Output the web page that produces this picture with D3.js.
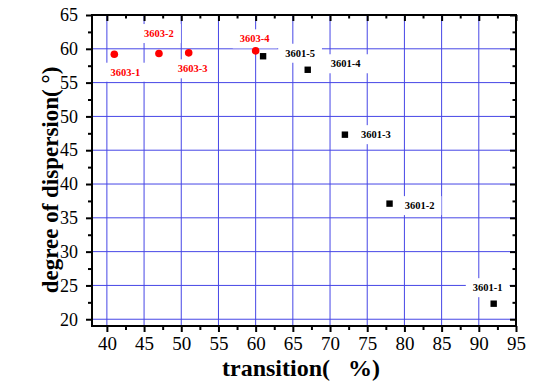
<!DOCTYPE html>
<html lang="en">
<head>
<meta charset="utf-8">
<title>dispersion vs transition</title>
<script src="https://cdn.jsdelivr.net/npm/d3@7"></script>
<style>
  body { margin: 0; background: #fff; }
</style>
</head>
<body>
<script>
// data
var names3603 = ["3603-1", "3603-2", "3603-3", "3603-4"];
var x3603 = [41, 47, 51, 60];
var y3603 = [59.2, 59.3, 59.4, 59.7];

var names3601 = ["3601-1", "3601-2", "3601-3", "3601-4", "3601-5"];
var x3601 = [92, 78, 72, 67, 61];
var y3601 = [22.3, 37.1, 47.3, 56.9, 58.9];

var xTicks = [40, 45, 50, 55, 60, 65, 70, 75, 80, 85, 90, 95];
var yTicks = [20, 25, 30, 35, 40, 45, 50, 55, 60, 65];

// label placement (pixels from the point)
var off3603 = [[11, 18], [0, -20], [4, 16], [-1, -12]];
var off3601 = [[-6, -16], [30, 2], [31, 0], [38, -6], [37, -3]];

var width = 533, height = 383;
var L = 92, R = 516, T = 15, B = 326;
var gridColor = "#4646e6";
var serif = "'Liberation Serif', 'Times New Roman', Times, serif";

var svg = d3.select("body").append("svg").attr("width", width).attr("height", height)
  .attr("font-family", serif);
svg.append("rect").attr("width", width).attr("height", height).attr("fill", "#fff");

var x = d3.scaleLinear().domain([38, 95]).range([L, R]);
var y = d3.scaleLinear().domain([19, 65]).range([B, T]);

var xMinor = xTicks.slice(0, -1).map(function(d) { return d + 2.5; });
var yMinor = yTicks.slice(0, -1).map(function(d) { return d + 2.5; });

// grid
svg.append("g").selectAll("line").data(xTicks.filter(function(d) { return d < 95; }))
  .enter().append("line")
  .attr("x1", function(d) { return x(d); }).attr("x2", function(d) { return x(d); })
  .attr("y1", T).attr("y2", B)
  .attr("stroke", gridColor).attr("stroke-width", 1);
svg.append("g").selectAll("line").data(yTicks.filter(function(d) { return d < 65; }))
  .enter().append("line")
  .attr("y1", function(d) { return y(d); }).attr("y2", function(d) { return y(d); })
  .attr("x1", L).attr("x2", R)
  .attr("stroke", gridColor).attr("stroke-width", 1);

// point labels with white boxes
function addLabels(names, xs, ys, offs, color) {
  names.forEach(function(n, i) {
    var g = svg.append("g");
    var t = g.append("text")
      .attr("x", x(xs[i]) + offs[i][0])
      .attr("y", y(ys[i]) + offs[i][1])
      .attr("text-anchor", "middle")
      .attr("dominant-baseline", "central")
      .attr("font-size", "10.5px")
      .attr("font-weight", "bold")
      .attr("fill", color)
      .text(n);
    var bb = t.node().getBBox();
    g.insert("rect", "text")
      .attr("x", bb.x - 7).attr("y", bb.y - 4)
      .attr("width", bb.width + 14).attr("height", bb.height + 8)
      .attr("fill", "#fff");
  });
}
addLabels(names3603, x3603, y3603, off3603, "#ff0000");
addLabels(names3601, x3601, y3601, off3601, "#000");

// points
svg.append("g").selectAll("circle").data(names3603).enter().append("circle")
  .attr("cx", function(d, i) { return x(x3603[i]); })
  .attr("cy", function(d, i) { return y(y3603[i]); })
  .attr("r", 3.8)
  .attr("fill", "#ff0000");
svg.append("g").selectAll("rect").data(names3601).enter().append("rect")
  .attr("x", function(d, i) { return x(x3601[i]) - 3.2; })
  .attr("y", function(d, i) { return y(y3601[i]) - 3.2; })
  .attr("width", 6.4).attr("height", 6.4)
  .attr("fill", "#000");

// axes
function tickAxis(axis, vals, size, tf) {
  return axis.tickValues(vals).tickSize(size).tickSizeOuter(0).tickFormat(tf ? tf : "");
}
function styleAxis(g, fs) {
  g.attr("font-family", serif);
  g.select(".domain").remove();
  g.selectAll("line").attr("stroke", "#000").attr("stroke-width", 2);
  g.selectAll("text").attr("font-size", fs).attr("fill", "#000");
}

var bottom = svg.append("g").attr("transform", "translate(0," + B + ")")
  .call(tickAxis(d3.axisBottom(x), xTicks, 6, d3.format("d")).tickPadding(5));
styleAxis(bottom, "19px");
svg.append("g").attr("transform", "translate(0," + B + ")")
  .call(tickAxis(d3.axisBottom(x), xMinor, 4)).call(styleAxis, "0");

var left = svg.append("g").attr("transform", "translate(" + L + ",0)")
  .call(tickAxis(d3.axisLeft(y), yTicks, 6, d3.format("d")).tickPadding(8));
styleAxis(left, "18px");
svg.append("g").attr("transform", "translate(" + L + ",0)")
  .call(tickAxis(d3.axisLeft(y), yMinor, 4)).call(styleAxis, "0");

// mirrored ticks on top and right, pointing in
svg.append("g").attr("transform", "translate(0," + T + ")")
  .call(tickAxis(d3.axisBottom(x), xTicks, 6)).call(styleAxis, "0");
svg.append("g").attr("transform", "translate(0," + T + ")")
  .call(tickAxis(d3.axisBottom(x), xMinor, 3.5)).call(styleAxis, "0");
svg.append("g").attr("transform", "translate(" + R + ",0)")
  .call(tickAxis(d3.axisLeft(y), yTicks, 6)).call(styleAxis, "0");
svg.append("g").attr("transform", "translate(" + R + ",0)")
  .call(tickAxis(d3.axisLeft(y), yMinor, 3.5)).call(styleAxis, "0");

// frame
svg.append("rect").attr("x", L).attr("y", T).attr("width", R - L).attr("height", B - T)
  .attr("fill", "none").attr("stroke", "#000").attr("stroke-width", 2);

// titles
svg.append("text")
  .attr("x", 301).attr("y", 376)
  .attr("text-anchor", "middle")
  .attr("font-size", "24px").attr("font-weight", "bold")
  .text("transition(\u00a0\u00a0\u00a0%)");

svg.append("text")
  .attr("transform", "translate(58,180) rotate(-90)")
  .attr("text-anchor", "middle")
  .attr("font-size", "23px").attr("font-weight", "bold")
  .text("degree of dispersion(\u00a0°)");
</script>
</body>
</html>
